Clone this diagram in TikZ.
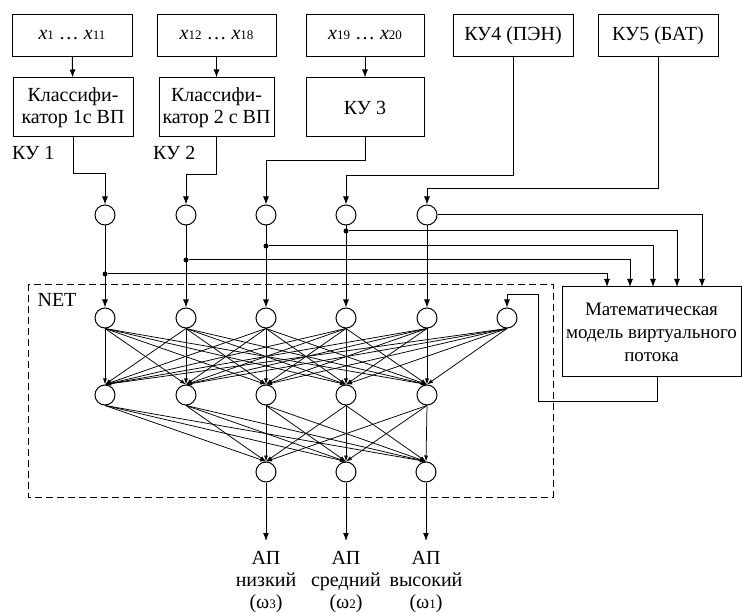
\documentclass[tikz,border=0pt]{standalone}
\usepackage{fontspec}
\setmainfont{Liberation Serif}
\usetikzlibrary{arrows.meta}

\newcommand{\idx}[1]{{\fontsize{13}{13}\selectfont #1}}

\tikzset{
    box/.style={draw, line width=1pt, inner sep=0pt, align=center, minimum width=120pt, minimum height=42pt},
    neuron/.style={draw, circle, line width=1pt, inner sep=0pt, minimum size=20pt},
    wire/.style={line width=1pt},
    feed/.style={wire, -{Latex[length=8pt,width=6pt]}},
    syn/.style={line width=0.75pt, -{Latex[length=6pt,width=4pt]}},
    tap/.style={circle, fill, inner sep=0pt, minimum size=5pt},
    outlabel/.style={align=center, inner sep=0pt, outer sep=10pt, anchor=north},
}

\begin{document}
\begin{tikzpicture}[x=1pt, y=-1pt, font=\fontsize{20}{22}\selectfont]
        \useasboundingbox (0,0) rectangle (742,612);

        \begin{scope}
            \node (bx1) [box] at (72,35.5)  {\textit{x}\idx{1} … \textit{x}\idx{11}};
            \node (bx2) [box, minimum width=119pt] at (216.5,35.5) {\textit{x}\idx{12} … \textit{x}\idx{18}};
            \node (bx3) [box, minimum width=118pt] at (365,35.5)   {\textit{x}\idx{19} … \textit{x}\idx{20}};
            \node (bx4) [box] at (513,35.5) {КУ4 (ПЭН)};
            \node (bx5) [box] at (658,36)   {КУ5 (БАТ)};

            \node (cl1) [box, minimum height=59pt] at (73,107.5) {Классифи-\\катор 1с ВП};
            \node (cl2) [box, minimum width=115pt, minimum height=59pt] at (216.5,107.5) {Классифи-\\катор 2 с ВП};
            \node (ku3) [box, minimum width=118pt, minimum height=59pt] at (365,107.5) {КУ 3};

            \node (ku1) [anchor=north west, inner sep=0pt] at (12,146)  {КУ 1};
            \node (ku2) [anchor=north west, inner sep=0pt] at (153,146) {КУ 2};

            \draw[feed] (bx1) -- (cl1);
            \draw[feed] (bx2) -- (cl2);
            \draw[feed] (bx3) -- (ku3);
        \end{scope}

        \foreach \x [count=\i] in {105,186,266,346,427}
            \node (a\i) [neuron] at (\x,215) {};
        \foreach \x [count=\i] in {105,186,266,346,427,507}
            \node (in\i) [neuron] at (\x,318) {};
        \foreach \x [count=\i] in {105,186,266,346,427}
            \node (h\i) [neuron] at (\x,395) {};
        \foreach \x [count=\i] in {266,346,426}
            \node (o\i) [neuron] at (\x,472) {};

        \draw[feed] (cl1.south) -- ++(0,36) -| (a1.north);
        \draw[feed] (cl2.south) -- ++(0,37) -| (a2.north);
        \draw[feed] (ku3.south) -- ++(0,23) -| (a3.north);
        \draw[feed] (bx4.south) -- ++(0,119) -| (a4.north);
        \draw[feed] (bx5.south) -- ++(0,131) -| (a5.north);

        \foreach \i in {1,...,5}
            \draw[feed] (a\i) -- (in\i);

        \node (t1) [tap] at (105,274) {};
        \node (t2) [tap] at (186,260) {};
        \node (t3) [tap] at (266,246) {};
        \node (t4) [tap] at (346,231) {};

        \node (mm) [box, minimum width=179pt, minimum height=90pt, font=\fontsize{19}{23}\selectfont] at (651.5,332)
            {Математическая\\модель виртуального\\потока};
        \coordinate (m1) at (607,287);
        \coordinate (m2) at (630,287);
        \coordinate (m3) at (653,287);
        \coordinate (m4) at (677,287);
        \coordinate (m5) at (702,287);

        \draw[feed] (t1) -| (m1);
        \draw[feed] (t2) -| (m2);
        \draw[feed] (t3) -| (m3);
        \draw[feed] (t4) -| (m4);
        \draw[feed] (a5) -| (m5);

        \coordinate (fb) at ([xshift=5.5pt]mm.south);
        \draw[feed] (fb) -- ++(0,24) -| (538,295) -| (in6.north);

        \draw[dash pattern=on 7pt off 4pt, line width=0.8pt] (28,284) rectangle (553,497);
        \node (net) at (57,300) {NET};

        \foreach \i in {1,...,6}
            \foreach \j in {1,...,5}
                \draw[syn] (in\i.south) -- (h\j.north);
        \foreach \j in {1,...,5}
            \foreach \k in {1,2,3}
                \draw[syn] (h\j.south) -- (o\k.north);

        \node (lab1) [outlabel] at (266,541) {АП\\низкий\\(ω\idx{3})};
        \node (lab2) [outlabel] at (346,541) {АП\\средний\\(ω\idx{2})};
        \node (lab3) [outlabel] at (426,541) {АП\\высокий\\(ω\idx{1})};

        \foreach \k in {1,2,3}
            \draw[feed] (o\k) -- (lab\k.north);

\end{tikzpicture}
\end{document}
